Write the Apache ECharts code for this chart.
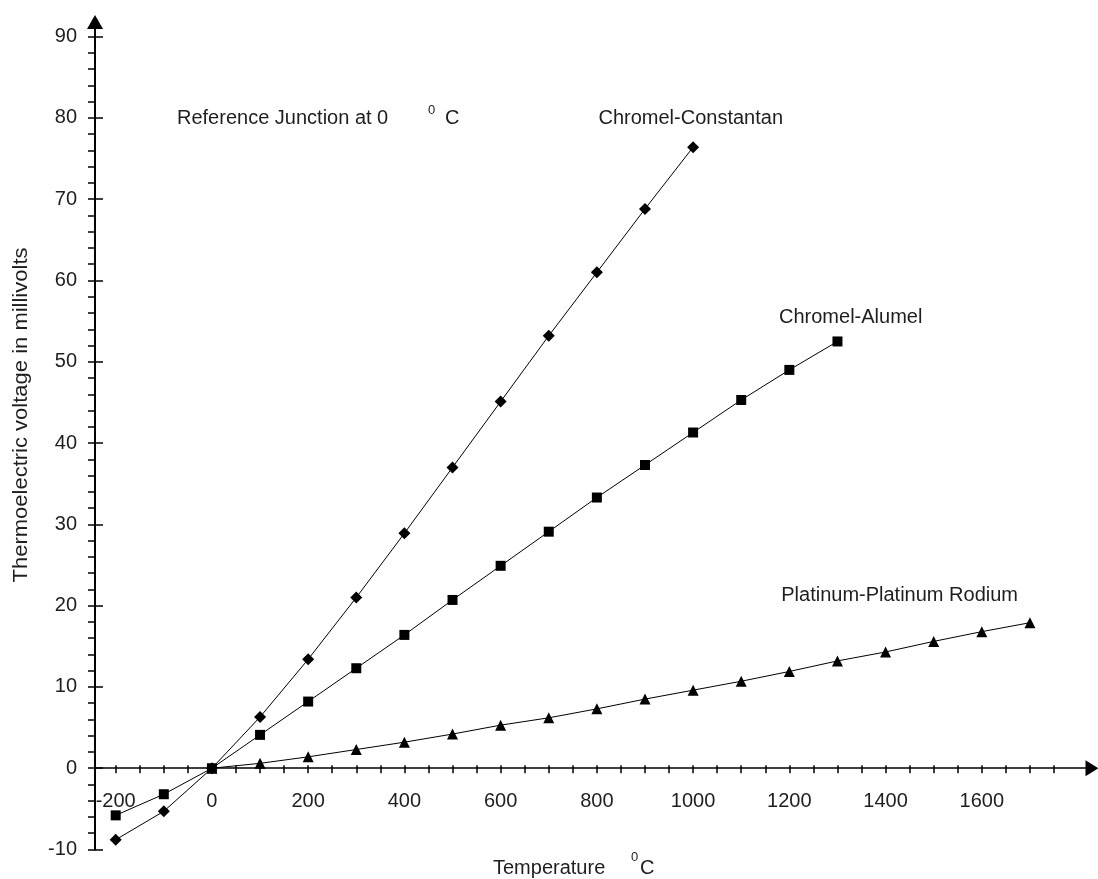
<!DOCTYPE html>
<html>
<head>
<meta charset="utf-8">
<script src="https://cdn.jsdelivr.net/npm/echarts@6/dist/echarts.min.js"></script>
<style>html,body{margin:0;padding:0;background:#fff;}#c{width:1098px;height:879px;}</style>
</head>
<body>
<div id="c"></div>
<script>
// ---- data ----
const tempCC = [-200, -100, 0, 100, 200, 300, 400, 500, 600, 700, 800, 900, 1000];
const voltCC = [-8.8, -5.3, 0, 6.3, 13.4, 21.0, 28.9, 37.0, 45.1, 53.2, 61.0, 68.8, 76.4];
const tempCA = [-200, -100, 0, 100, 200, 300, 400, 500, 600, 700, 800, 900, 1000, 1100, 1200, 1300];
const voltCA = [-5.8, -3.2, 0, 4.1, 8.2, 12.3, 16.4, 20.7, 24.9, 29.1, 33.3, 37.3, 41.3, 45.3, 49.0, 52.5];
const tempPt = [0, 100, 200, 300, 400, 500, 600, 700, 800, 900, 1000, 1100, 1200, 1300, 1400, 1500, 1600, 1700];
const voltPt = [0, 0.6, 1.4, 2.3, 3.2, 4.2, 5.3, 6.2, 7.3, 8.5, 9.6, 10.7, 11.9, 13.2, 14.3, 15.6, 16.8, 17.9];
const xLabels = [-200, 0, 200, 400, 600, 800, 1000, 1200, 1400, 1600];
const xTicks = [-200, -150, -100, -50, 0, 50, 100, 150, 200, 250, 300, 350, 400, 450, 500, 550, 600, 650, 700, 750, 800, 850, 900, 950, 1000, 1050, 1100, 1150, 1200, 1250, 1300, 1350, 1400, 1450, 1500, 1550, 1600, 1650, 1700, 1750];
const yLabels = [-10, 0, 10, 20, 30, 40, 50, 60, 70, 80, 90];
const yMinorTicks = [-10, -8, -6, -4, -2, 0, 2, 4, 6, 8, 10, 12, 14, 16, 18, 20, 22, 24, 26, 28, 30, 32, 34, 36, 38, 40, 42, 44, 46, 48, 50, 52, 54, 56, 58, 60, 62, 64, 66, 68, 70, 72, 74, 76, 78, 80, 82, 84, 86, 88, 90];
const seriesNames = ['Chromel-Constantan', 'Chromel-Alumel', 'Platinum-Platinum Rodium'];

function pairs(xs, ys) { return xs.map((x, i) => [x, ys[i]]); }

const FONT = '"Liberation Sans", Arial, sans-serif';
const TXT = '#1e1e1e';
const Y_MIN = -10, Y_MAX = 91.8, X_MIN = -243, X_MAX = 1829;
const GRID = {left: 95, right: 6, top: 22, bottom: 29.5};
// pixel distance from grid bottom (y = Y_MIN) up to the y = 0 line
const zeroOffset = -(0 - Y_MIN) / (Y_MAX - Y_MIN) * (879 - GRID.top - GRID.bottom);

const chart = echarts.init(document.getElementById('c'), null, {renderer: 'canvas'});

const lineSeries = (name, data, symbol, size) => ({
  name, type: 'line', data, symbol, symbolSize: size, showSymbol: true,
  lineStyle: {color: '#000', width: 1},
  itemStyle: {color: '#000', borderWidth: 0},
  animation: false, silent: true, z: 5
});

const txt = (text, x, y, opts) => Object.assign({
  type: 'text', x, y, silent: true, z: 100,
  style: {text, fill: TXT, fontFamily: FONT, fontSize: 20, align: 'left', verticalAlign: 'middle'}
}, opts || {});

chart.setOption({
  animation: false,
  backgroundColor: '#fff',
  textStyle: {fontFamily: FONT},
  grid: Object.assign({containLabel: false, outerBoundsMode: 'none'}, GRID),
  xAxis: [{
    type: 'value', position: 'bottom', min: X_MIN, max: X_MAX, offset: zeroOffset,
    axisLine: {show: true, onZero: false, symbol: ['none', 'triangle'], symbolSize: [16, 13],
      lineStyle: {color: '#000', width: 1.5}},
    axisTick: {show: true, inside: false, length: 5, customValues: xTicks, lineStyle: {color: '#000', width: 1.5}},
    axisLabel: {show: true, customValues: xLabels, margin: 23, color: TXT, fontSize: 20, fontFamily: FONT,
      formatter: (v) => String(v)},
    splitLine: {show: false}
  }, {
    type: 'value', position: 'bottom', min: X_MIN, max: X_MAX, offset: zeroOffset,
    axisLine: {show: false, onZero: false},
    axisTick: {show: true, inside: true, length: 3, customValues: xTicks, lineStyle: {color: '#000', width: 1.5}},
    axisLabel: {show: false},
    splitLine: {show: false}
  }],
  yAxis: [{
    type: 'value', position: 'left', min: Y_MIN, max: Y_MAX,
    axisLine: {show: true, onZero: false, symbol: ['none', 'triangle'], symbolSize: [16, 14],
      lineStyle: {color: '#000', width: 2}},
    axisTick: {show: true, inside: false, length: 7, customValues: yMinorTicks, lineStyle: {color: '#000', width: 1.5}},
    axisLabel: {show: true, customValues: yLabels, margin: 18, color: TXT, fontSize: 20, fontFamily: FONT,
      formatter: (v) => String(v)},
    splitLine: {show: false}
  }, {
    type: 'value', position: 'left', min: Y_MIN, max: Y_MAX,
    axisLine: {show: false, onZero: false},
    axisTick: {show: true, inside: true, length: 8, customValues: yLabels, lineStyle: {color: '#000', width: 1.5}},
    axisLabel: {show: false},
    splitLine: {show: false}
  }],
  series: [
    lineSeries(seriesNames[0], pairs(tempCC, voltCC), 'diamond', 12),
    lineSeries(seriesNames[1], pairs(tempCA, voltCA), 'rect', 10),
    lineSeries(seriesNames[2], pairs(tempPt, voltPt), 'triangle', 11)
  ],
  graphic: [
    txt('Reference Junction at 0', 177, 118),
    txt('0', 428, 110, {style: {text: '0', fill: TXT, fontFamily: FONT, fontSize: 13, align: 'left', verticalAlign: 'middle'}}),
    txt('C', 445, 118),
    txt(seriesNames[0], 783, 118, {style: {text: seriesNames[0], fill: TXT, fontFamily: FONT, fontSize: 20, align: 'right', verticalAlign: 'middle'}}),
    txt(seriesNames[1], 779, 317),
    txt(seriesNames[2], 1018, 595, {style: {text: seriesNames[2], fill: TXT, fontFamily: FONT, fontSize: 20, align: 'right', verticalAlign: 'middle'}}),
    txt('Temperature', 493, 868),
    txt('0', 631, 857, {style: {text: '0', fill: TXT, fontFamily: FONT, fontSize: 13, align: 'left', verticalAlign: 'middle'}}),
    txt('C', 640, 868),
    txt('Thermoelectric voltage in millivolts', 21, 415, {rotation: Math.PI / 2, scaleX: 1.1,
      style: {text: 'Thermoelectric voltage in millivolts', fill: TXT, fontFamily: FONT, fontSize: 20, align: 'center', verticalAlign: 'middle'}})
  ]
});
</script>
</body>
</html>
